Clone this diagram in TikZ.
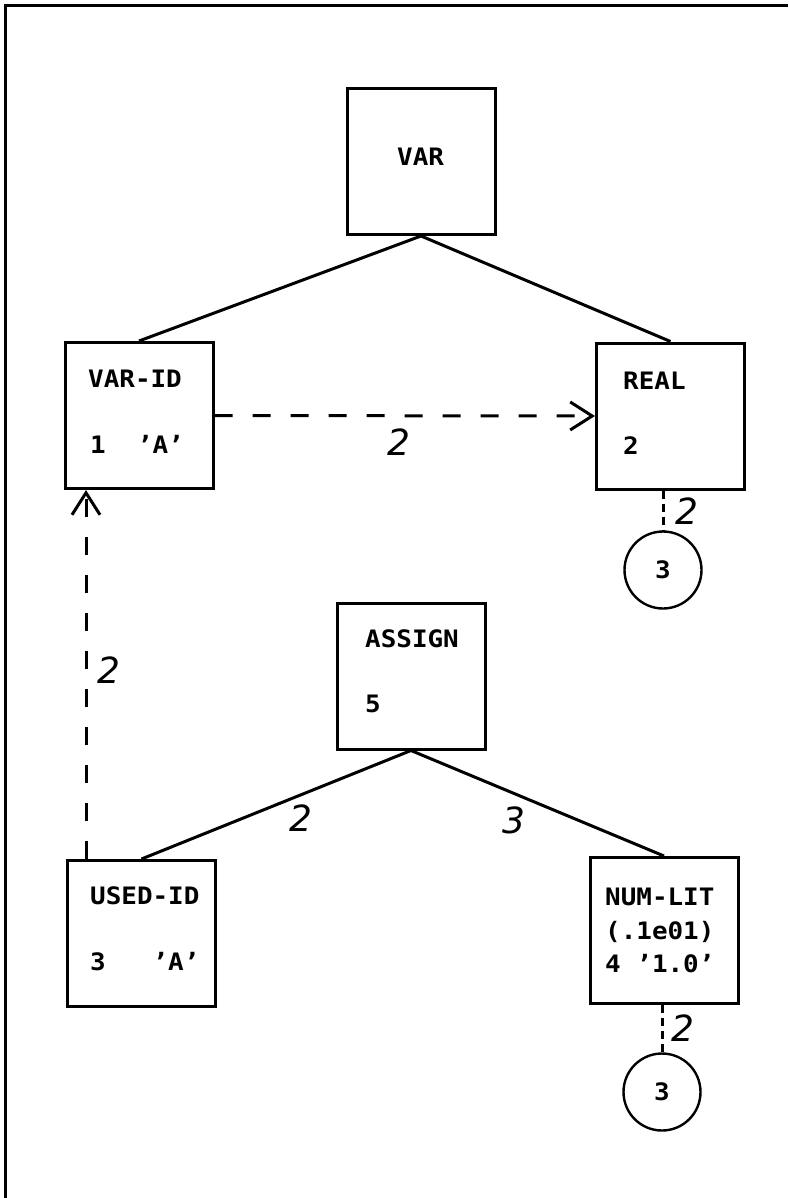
\documentclass[tikz,border=0pt]{standalone}
\usepackage{fontspec}
\newfontfamily\plotfont[FakeStretch=1.08]{DejaVu Sans Mono}
\newfontfamily\handfont{DejaVu Sans}
\usetikzlibrary{arrows.meta}
\begin{document}
\begin{tikzpicture}[x=1pt,y=-1pt,
  boxnode/.style={draw,line width=3pt,minimum width=148pt,minimum height=146pt,inner sep=0pt},
  txt/.style={anchor=base west,inner sep=0pt,font=\plotfont\bfseries\fontsize{24}{24}\selectfont},
  hand/.style={inner sep=0pt,font=\handfont\itshape\fontsize{36}{36}\selectfont},
  edge/.style={line width=3pt},
  longdash/.style={line width=3pt,dash pattern=on 18pt off 20pt},
  shortdash/.style={line width=3pt,dash pattern=on 8pt off 5pt},
  barb/.style={-{Straight Barb[length=22pt,width=28pt,line width=3pt]}},
  ring/.style={draw,circle,line width=2.4pt,minimum size=77pt,inner sep=0pt,font=\plotfont\bfseries\fontsize{24}{24}\selectfont}
]
\useasboundingbox (0,0) rectangle (788,1198);
% frame (left and top only)
\draw[edge] (5,1198) -- (5,6) -- (788,6);

% boxes
\node[boxnode] (var)    at (421,161.5) {};
\node[boxnode] (varid)  at (139,415.5) {};
\node[boxnode] (real)   at (670.5,416) {};
\node[boxnode] (assign) at (411,676) {};
\node[boxnode] (usedid) at (141.5,933.5) {};
\node[boxnode] (numlit) at (664,930.5) {};

% circles
\node[ring] (c1) at (663,570) {3};
\node[ring] (c2) at (662,1092) {3};

% texts
\node[txt] (tvar)   at (397,166) {VAR};
\node[txt] (tvarid) at (88,387) {VAR-ID};
\node[txt] (tvarid2) at (90,453) {1\ \ ’A’};
\node[txt] (treal)  at (623,389) {REAL};
\node[txt] (treal2) at (623,454) {2};
\node[txt] (tassign) at (365,647) {ASSIGN};
\node[txt] (tassign2) at (365,712) {5};
\node[txt] (tused)  at (90,904) {USED-ID};
\node[txt] (tused2) at (90,970) {3\ \ \ ’A’};
\node[txt] (tnum1)  at (605,905) {NUM-LIT};
\node[txt] (tnum2)  at (605,939) {(.1e01)};
\node[txt] (tnum3)  at (605,972) {4 ’1.0’};

% tree edges
\draw[edge] (var.south) -- (varid.north);
\draw[edge] (var.south) -- (real.north);
\draw[edge] (assign.south) -- (usedid.north);
\draw[edge] (assign.south) -- (numlit.north);

% dashed arrows
\draw[longdash,barb] (varid.east) -- (real.west);
\draw[longdash,barb] ([xshift=20pt]usedid.north west) -- ([xshift=20pt]usedid.north west |- varid.south);

% short dashed links
\draw[shortdash] (c1.north |- real.south) -- (c1.north);
\draw[shortdash] (c2.north |- numlit.south) -- (c2.north);

% labels
\node[hand] (l1) at (399,442) {2};
\node[hand] (l2) at (109,670) {2};
\node[hand] (l3) at (687,511) {2};
\node[hand] (l4) at (301,818) {2};
\node[hand] (l5) at (514,820) {3};
\node[hand] (l6) at (683,1028) {2};
\end{tikzpicture}
\end{document}
